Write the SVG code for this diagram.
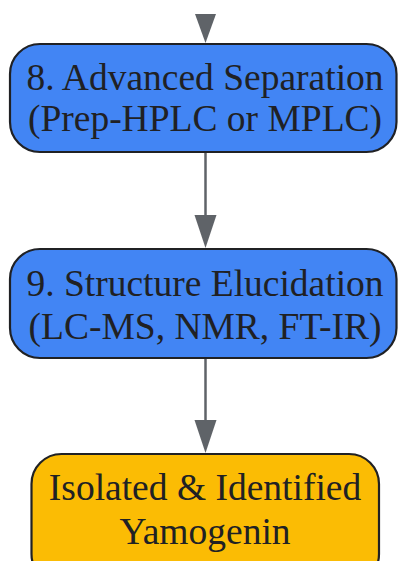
<svg xmlns="http://www.w3.org/2000/svg" width="398" height="561" viewBox="0 0 398 561">
<style>
.n rect{stroke:#202124;stroke-width:2.2}
.blue{fill:#4285F4}
.gold{fill:#FBBC04}
.n text{font-family:"Liberation Serif","Times New Roman",serif;font-size:37.5px;fill:#202124;text-anchor:middle}
.e line{stroke:#5f6368;stroke-width:2.5}
.e polygon{fill:#5f6368}
</style>
<rect width="398" height="561" fill="#ffffff"/>
<g id="connectors" class="e">
<polygon points="195,14 216,14 205.5,43"/>
<line x1="205.5" y1="152" x2="205.5" y2="218"/>
<polygon points="194.5,215 216.5,215 205.5,248"/>
<line x1="205.5" y1="358" x2="205.5" y2="423"/>
<polygon points="194.5,420 216.5,420 205.5,453"/>
</g>
<g id="node8" class="n">
<rect class="blue" x="10" y="44" width="386.5" height="108" rx="30" ry="30"/>
<text x="205" y="90">8. Advanced Separation</text>
<text x="205" y="131">(Prep-HPLC or MPLC)</text>
</g>
<g id="node9" class="n">
<rect class="blue" x="10" y="249" width="386.5" height="109" rx="30" ry="30"/>
<text x="205" y="296">9. Structure Elucidation</text>
<text x="205" y="339">(LC-MS, NMR, FT-IR)</text>
</g>
<g id="result" class="n">
<rect class="gold" x="31.5" y="454" width="347.5" height="130" rx="30" ry="30"/>
<text x="205" y="500">Isolated &amp; Identified</text>
<text x="205" y="544">Yamogenin</text>
</g>
</svg>
